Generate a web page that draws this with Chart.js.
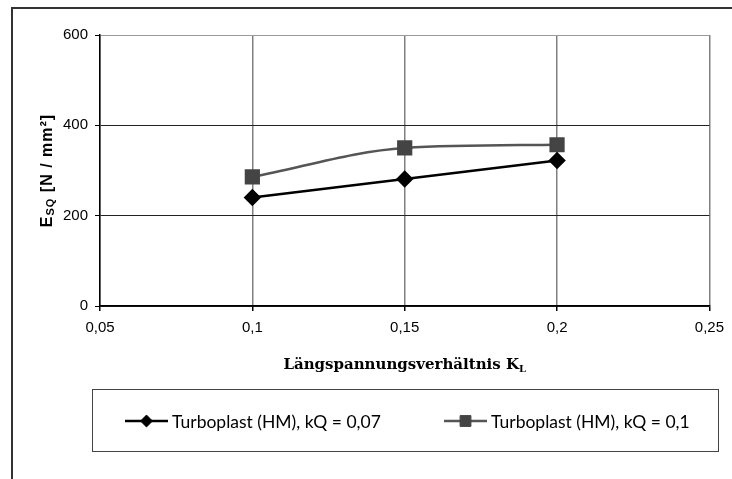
<!DOCTYPE html>
<html>
<head>
<meta charset="utf-8">
<script src="https://cdn.jsdelivr.net/npm/chart.js@4.4.1/dist/chart.umd.min.js"></script>
<style>
  html, body { margin: 0; padding: 0; background: #fff; }
  #wrap { width: 732px; height: 479px; }
</style>
</head>
<body>
<div id="wrap"><canvas id="chart" width="732" height="479"></canvas></div>
<script>
// data
const ratios = [0.1, 0.15, 0.2];          // Längspannungsverhältnis K_L
const esqKq007 = [240, 281, 322];         // E_SQ, kQ = 0,07
const esqKq01 = [286, 350, 357];          // E_SQ, kQ = 0,1
const seriesNames = ['Turboplast (HM), kQ = 0,07', 'Turboplast (HM), kQ = 0,1'];
const xTicks = [0.05, 0.1, 0.15, 0.2, 0.25];
const yTicks = [0, 200, 400, 600];

const fmt = v => (Math.round(v * 100) / 100).toString().replace('.', ',');

// frame, axis titles (with subscripts) and boxed legend
const decor = {
    id: 'decor',
    afterDraw(chart) {
        const ctx = chart.ctx;
        const area = chart.chartArea;
        ctx.save();

        // outer chart frame (only top/left visible)
        ctx.strokeStyle = '#333';
        ctx.lineWidth = 2;
        ctx.beginPath();
        ctx.moveTo(12, 479);
        ctx.lineTo(12, 8);
        ctx.lineTo(732, 8);
        ctx.stroke();

        // x title
        const big = 'bold 15px "DejaVu Serif"';
        const small = 'bold 10px "DejaVu Serif"';
        ctx.fillStyle = '#000';
        ctx.textBaseline = 'alphabetic';
        ctx.font = big;
        const xMain = 'Längspannungsverhältnis K';
        const wMain = ctx.measureText(xMain).width;
        ctx.font = small;
        const wSub = ctx.measureText('L').width;
        let x0 = (area.left + area.right) / 2 - (wMain + wSub) / 2;
        ctx.font = big;
        ctx.fillText(xMain, x0, 369);
        ctx.font = small;
        ctx.fillText('L', x0 + wMain, 372);

        // y title, rotated
        const yBig = 'bold 16px "Liberation Sans"';
        const ySmall = 'bold 11px "Liberation Sans"';
        ctx.save();
        ctx.translate(52, (area.top + area.bottom) / 2);
        ctx.rotate(-Math.PI / 2);
        ctx.letterSpacing = '1px';
        ctx.font = yBig;
        const wE = ctx.measureText('E').width;
        const yRest = ' [N / mm²]';
        const wRest = ctx.measureText(yRest).width;
        ctx.font = ySmall;
        const wSQ = ctx.measureText('SQ').width;
        let y0 = -(wE + wSQ + wRest) / 2;
        ctx.font = yBig;
        ctx.fillText('E', y0, 0);
        ctx.font = ySmall;
        ctx.fillText('SQ', y0 + wE, 2);
        ctx.font = yBig;
        ctx.fillText(yRest, y0 + wE + wSQ, 0);
        ctx.restore();

        // legend box
        ctx.strokeStyle = '#444';
        ctx.lineWidth = 1;
        ctx.strokeRect(92.5, 389.5, 626, 62);
        const items = [{ x: 125 }, { x: 444 }];
        ctx.font = '17.5px Lato';
        ctx.textBaseline = 'middle';
        chart.data.datasets.forEach((ds, i) => {
            const lx = items[i].x, ly = 421;
            ctx.strokeStyle = ds.borderColor;
            ctx.lineWidth = ds.borderWidth;
            ctx.beginPath();
            ctx.moveTo(lx, ly);
            ctx.lineTo(lx + 43, ly);
            ctx.stroke();
            ctx.fillStyle = ds.pointBackgroundColor;
            ctx.strokeStyle = ds.pointBorderColor;
            ctx.lineWidth = 1;
            Chart.helpers.drawPoint(ctx, {
                pointStyle: ds.pointStyle,
                rotation: 0,
                radius: ds.pointRadius * 0.85,
                borderWidth: 1
            }, lx + 21.5, ly);
            ctx.fillStyle = '#000';
            ctx.fillText(ds.label, lx + 47, ly + 1);
        });
        ctx.restore();
    }
};

new Chart(document.getElementById('chart'), {
    type: 'line',
    data: {
        datasets: [
            {
                label: seriesNames[0],
                data: ratios.map((r, i) => ({ x: r, y: esqKq007[i] })),
                borderColor: '#000',
                borderWidth: 2.5,
                pointStyle: 'rectRot',
                pointRadius: 7,
                pointBackgroundColor: '#000',
                pointBorderColor: '#000',
                tension: 0
            },
            {
                label: seriesNames[1],
                data: ratios.map((r, i) => ({ x: r, y: esqKq01[i] })),
                borderColor: '#555',
                borderWidth: 2.5,
                pointStyle: 'rect',
                pointRadius: 9,
                pointBackgroundColor: '#444',
                pointBorderColor: '#444',
                cubicInterpolationMode: 'monotone'
            }
        ]
    },
    options: {
        responsive: false,
        animation: false,
        devicePixelRatio: 1,
        layout: { padding: { left: 0, right: 19, top: 35, bottom: 123 } },
        plugins: {
            legend: { display: false },
            title: { display: false },
            tooltip: { enabled: false }
        },
        scales: {
            x: {
                type: 'linear',
                min: 0.05,
                max: 0.25,
                afterBuildTicks: s => { s.ticks = xTicks.map(v => ({ value: v })); },
                afterFit: s => { s.height = 50; },
                border: { color: '#000', width: 1.5 },
                grid: { color: '#808080', lineWidth: 1.5, tickLength: 5, tickColor: '#000' },
                ticks: {
                    callback: v => fmt(v),
                    color: '#000',
                    padding: 8,
                    maxRotation: 0,
                    font: { family: '"Liberation Sans"', size: 15 }
                }
            },
            y: {
                min: 0,
                max: 600,
                afterBuildTicks: s => { s.ticks = yTicks.map(v => ({ value: v })); },
                afterFit: s => { s.width = 100; },
                border: { color: '#000', width: 1.5 },
                grid: {
                    color: c => (c.tick && c.tick.value === 600 ? '#999' : '#222'),
                    lineWidth: 1,
                    tickLength: 5,
                    tickColor: '#000'
                },
                ticks: {
                    callback: v => fmt(v),
                    color: '#000',
                    padding: 7,
                    font: { family: '"Liberation Sans"', size: 15 }
                }
            }
        }
    },
    plugins: [decor]
});
</script>
</body>
</html>
